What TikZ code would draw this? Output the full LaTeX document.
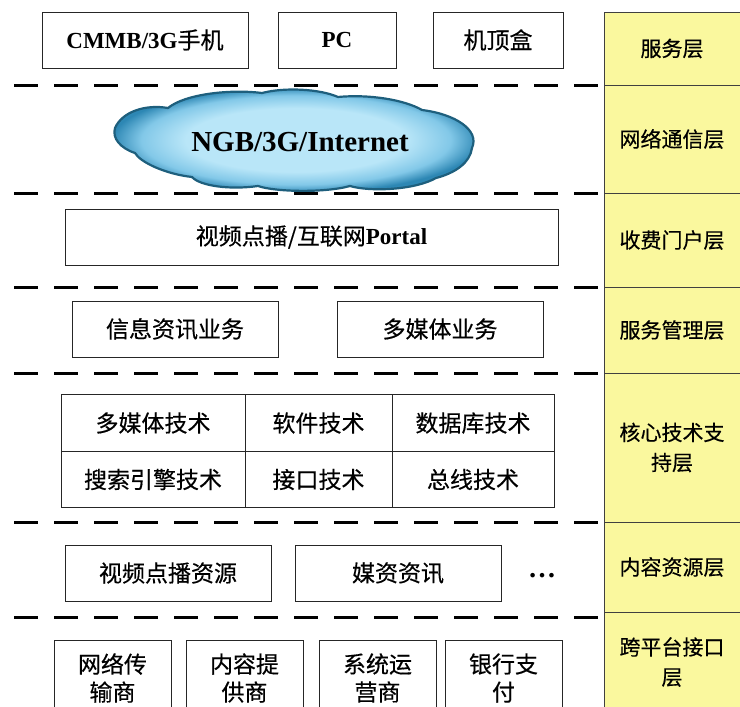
\documentclass[tikz,border=0pt]{standalone}
\usepackage{fontspec}
\setmainfont{Liberation Serif}
\newfontfamily\cjk[FakeBold=0.4]{Noto Sans CJK SC}
\newcommand{\zh}[1]{{\cjk #1}}
\definecolor{layeryellow}{RGB}{250,248,158}
\definecolor{cloudin}{RGB}{185,230,248}
\definecolor{cloudmid}{RGB}{130,200,232}
\definecolor{cloudout}{RGB}{45,135,180}
\definecolor{cloudedge}{RGB}{30,95,125}
\pgfdeclareradialshading{cloudglow}{\pgfpoint{0bp}{0bp}}{%
  color(0bp)=(cloudin); color(15bp)=(cloudin); color(21bp)=(cloudmid);
  color(25bp)=(cloudout); color(50bp)=(cloudout)}
\begin{document}
\begin{tikzpicture}[x=1pt,y=-1pt,
  box/.style={draw=black!85, line width=0.9pt, fill=white, inner sep=0pt,
    font=\fontsize{23}{28}\selectfont, align=center},
  layer/.style={draw=black!75, line width=0.8pt, fill=layeryellow, inner sep=0pt,
    minimum width=136pt, font=\fontsize{21}{30}\selectfont\cjk, align=center},
  divider/.style={line width=3pt, dash pattern=on 24pt off 16pt}]
\useasboundingbox (0,0) rectangle (740,707);
\clip (0,0) rectangle (740,707);

% layer labels on the right
\node[layer, minimum height=73pt]  (l1) at (672,48.5)  {服务层};
\node[layer, minimum height=108pt] (l2) at (672,139)   {网络通信层};
\node[layer, minimum height=94pt]  (l3) at (672,240)   {收费门户层};
\node[layer, minimum height=86pt]  (l4) at (672,330)   {服务管理层};
\node[layer, minimum height=149pt] (l5) at (672,447.5) {核心技术支\\持层};
\node[layer, minimum height=90pt]  (l6) at (672,567)   {内容资源层};
\node[layer, minimum height=100pt] (l7) at (672,662)   {跨平台接口\\层};

% dashed separators
\coordinate (d1a) at (14,85);  \coordinate (d1b) at (598,85);
\coordinate (d2a) at (14,193); \coordinate (d2b) at (598,193);
\coordinate (d3a) at (14,287); \coordinate (d3b) at (598,287);
\coordinate (d4a) at (14,373); \coordinate (d4b) at (598,373);
\coordinate (d5a) at (14,522); \coordinate (d5b) at (598,522);
\coordinate (d6a) at (14,617); \coordinate (d6b) at (598,617);
\foreach \i in {1,...,6} \draw[divider] (d\i a) -- (d\i b);

% terminals
\node[box, minimum width=206pt, minimum height=56pt] (cmmb) at (145,40)
  {\textbf{CMMB/3G}\zh{手机}};
\node[box, minimum width=118pt, minimum height=56pt] (pc) at (337,40)
  {\textbf{PC}};
\node[box, minimum width=130pt, minimum height=56pt] (stb) at (498,40)
  {\zh{机顶盒}};

% network cloud
\path[shading=cloudglow, draw=cloudedge, line width=2.2pt, line join=round]
  (115,128)
  .. controls (122,112) and (145,104) .. (168,108)
  .. controls (185,94) and (230,89) .. (262,93)
  .. controls (285,87) and (320,89) .. (338,97)
  .. controls (370,94) and (405,100) .. (422,110)
  .. controls (455,114) and (480,130) .. (472,148)
  .. controls (470,163) and (455,173) .. (436,178)
  .. controls (415,190) and (370,192) .. (350,186)
  .. controls (325,193) and (275,192) .. (258,186)
  .. controls (230,190) and (200,186) .. (192,177)
  .. controls (165,174) and (140,162) .. (135,153)
  .. controls (120,148) and (112,138) .. (115,128) -- cycle;
\node[font=\fontsize{29}{34}\selectfont\bfseries] (net) at (300,142) {NGB/3G/Internet};

% portal
\node[box, minimum width=493pt, minimum height=56pt] (portal) at (311.5,237)
  {\zh{视频点播/互联网}\textbf{Portal}};

% services
\node[box, minimum width=206pt, minimum height=56pt] (info) at (175,329) {\zh{信息资讯业务}};
\node[box, minimum width=206pt, minimum height=56pt] (mm) at (440,329) {\zh{多媒体业务}};

% core technologies grid
\node[box, minimum width=184pt, minimum height=56.5pt] (t1) at (153,423)   {\zh{多媒体技术}};
\node[box, minimum width=147pt, minimum height=56.5pt] (t2) at (318.5,423) {\zh{软件技术}};
\node[box, minimum width=162pt, minimum height=56.5pt] (t3) at (473,423)   {\zh{数据库技术}};
\node[box, minimum width=184pt, minimum height=56.5pt] (t4) at (153,479.5) {\zh{搜索引擎技术}};
\node[box, minimum width=147pt, minimum height=56.5pt] (t5) at (318.5,479.5) {\zh{接口技术}};
\node[box, minimum width=162pt, minimum height=56.5pt] (t6) at (473,479.5) {\zh{总线技术}};

% content resources
\node[box, minimum width=206pt, minimum height=56pt] (vod) at (168,573) {\zh{视频点播资源}};
\node[box, minimum width=206pt, minimum height=56pt] (media) at (398,573) {\zh{媒资资讯}};
\node[font=\fontsize{28}{30}\selectfont\bfseries] (more) at (542,576) {…};

% cross-platform interfaces
\node[box, minimum width=117pt, minimum height=76pt] (p1) at (112.5,678) {\zh{网络传}\\\zh{输商}};
\node[box, minimum width=117pt, minimum height=76pt] (p2) at (244.5,678) {\zh{内容提}\\\zh{供商}};
\node[box, minimum width=117pt, minimum height=76pt] (p3) at (377.5,678) {\zh{系统运}\\\zh{营商}};
\node[box, minimum width=117pt, minimum height=76pt] (p4) at (503.5,678) {\zh{银行支}\\\zh{付}};
\end{tikzpicture}
\end{document}
